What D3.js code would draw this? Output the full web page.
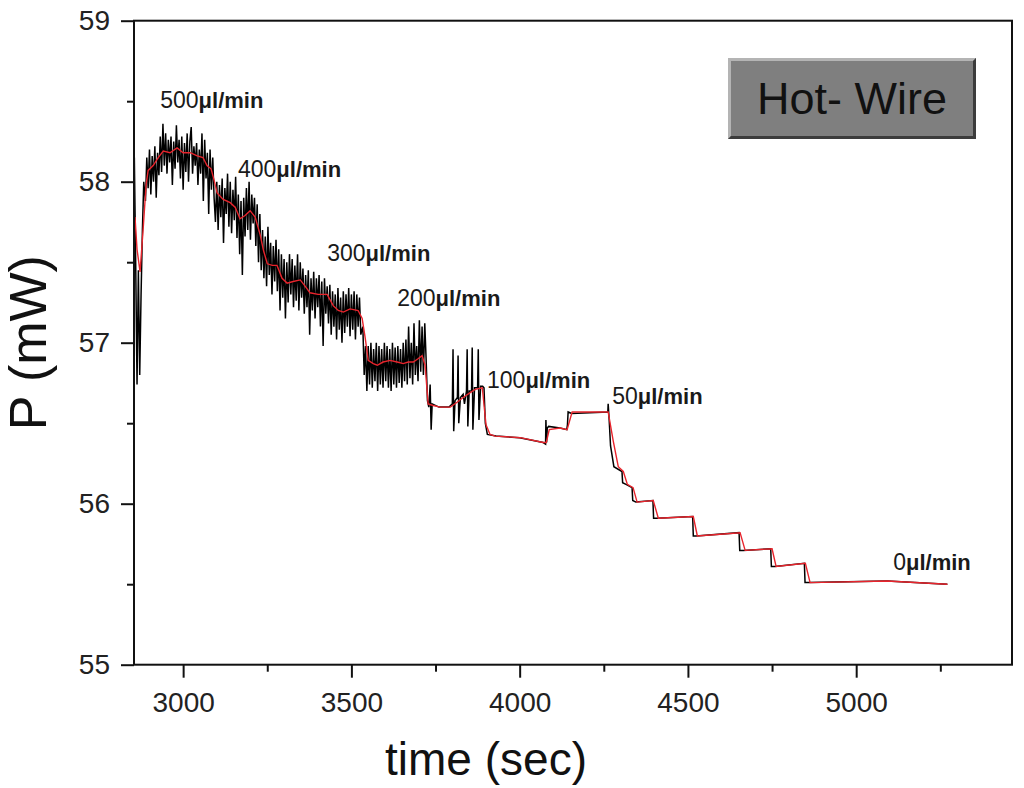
<!DOCTYPE html>
<html>
<head>
<meta charset="utf-8">
<script src="https://cdn.jsdelivr.net/npm/d3@7"></script>
<style>
  body { margin: 0; background: #fff; }
  text { font-family: Arial, "Liberation Sans", sans-serif; }
</style>
</head>
<body>
<div id="chart"></div>
<script>
// tick values
var timeTicks = [3000, 3500, 4000, 4500, 5000];
var timeMinor = [3250, 3750, 4250, 4750, 5250];
var powerTicks = [55, 56, 57, 58, 59];
var powerMinor = [55.5, 56.5, 57.5, 58.5];

// raw signal (black), [time sec, P mW]
var rawTrace = [
  [2855, 58.15], [2859, 57.50], [2863, 56.74], [2867, 57.45], [2871, 56.80], [2875, 57.30],
  [2879, 57.70], [2883, 58.00], [2888, 57.88], [2892, 58.15], [2896, 57.96], [2900, 58.20],
  [2904, 57.92], [2908, 58.16], [2912, 58.00], [2916, 58.22], [2920, 57.90], [2924, 58.18],
  [2928, 58.04], [2932, 58.28], [2936, 58.06], [2940, 58.36], [2944, 58.10], [2948, 58.30],
  [2952, 58.05], [2956, 58.26], [2960, 58.12], [2964, 58.28], [2968, 57.98], [2972, 58.25],
  [2976, 58.08], [2980, 58.35], [2984, 58.12], [2988, 58.26], [2992, 58.02], [2996, 58.28],
  [3000, 57.95], [3004, 58.24], [3008, 58.06], [3012, 58.30], [3016, 58.00], [3020, 58.25],
  [3024, 58.34], [3028, 58.05], [3032, 58.22], [3036, 58.10], [3040, 58.24], [3044, 57.98],
  [3048, 58.20], [3052, 58.05], [3056, 58.30], [3060, 57.88], [3064, 58.26], [3068, 58.02],
  [3072, 58.18], [3076, 57.80], [3080, 58.20], [3084, 57.95], [3088, 58.15], [3092, 57.90],
  [3096, 57.75], [3100, 58.00], [3104, 57.70], [3108, 57.98], [3112, 57.78], [3116, 58.02],
  [3120, 57.62], [3124, 57.96], [3128, 57.80], [3132, 58.05], [3136, 57.72], [3140, 58.00],
  [3144, 57.68], [3148, 57.95], [3152, 57.76], [3156, 58.03], [3160, 57.65], [3164, 57.92],
  [3168, 57.55], [3172, 57.88], [3176, 57.42], [3180, 57.90], [3184, 57.66], [3188, 57.96],
  [3192, 57.70], [3196, 58.00], [3200, 57.64], [3204, 57.92], [3208, 57.74], [3212, 57.90],
  [3216, 57.60], [3220, 57.86], [3224, 57.50], [3228, 57.80], [3232, 57.45], [3236, 57.70],
  [3240, 57.40], [3244, 57.66], [3248, 57.35], [3252, 57.72], [3256, 57.42], [3260, 57.62],
  [3264, 57.30], [3268, 57.60], [3272, 57.38], [3276, 57.64], [3280, 57.32], [3284, 57.58],
  [3288, 57.20], [3292, 57.55], [3296, 57.28], [3300, 57.52], [3304, 57.15], [3308, 57.50],
  [3312, 57.25], [3316, 57.55], [3320, 57.30], [3324, 57.52], [3328, 57.22], [3332, 57.48],
  [3336, 57.26], [3340, 57.55], [3344, 57.20], [3348, 57.50], [3352, 57.28], [3356, 57.46],
  [3360, 57.18], [3364, 57.42], [3368, 57.22], [3372, 57.45], [3376, 57.05], [3380, 57.40],
  [3384, 57.20], [3388, 57.44], [3392, 57.15], [3396, 57.40], [3400, 57.22], [3404, 57.42],
  [3408, 57.10], [3412, 57.38], [3416, 56.98], [3420, 57.40], [3424, 57.18], [3428, 57.35],
  [3432, 57.12], [3436, 57.36], [3440, 57.05], [3444, 57.32], [3448, 57.10], [3452, 57.30],
  [3456, 57.02], [3460, 57.34], [3464, 57.08], [3468, 57.28], [3472, 57.00], [3476, 57.32],
  [3480, 57.06], [3484, 57.30], [3488, 57.10], [3492, 57.34], [3496, 57.04], [3500, 57.30],
  [3504, 57.08], [3508, 57.32], [3512, 57.02], [3516, 57.30], [3520, 57.10], [3524, 57.28],
  [3528, 57.05], [3534, 57.10], [3538, 56.80], [3542, 56.98], [3546, 56.70], [3550, 56.98],
  [3554, 56.74], [3558, 57.00], [3562, 56.72], [3566, 56.96], [3570, 56.76], [3574, 57.00],
  [3578, 56.70], [3582, 56.98], [3586, 56.74], [3590, 56.96], [3594, 56.72], [3598, 57.00],
  [3602, 56.76], [3606, 56.98], [3610, 56.72], [3614, 56.96], [3618, 56.70], [3622, 57.00],
  [3626, 56.74], [3630, 56.97], [3634, 56.72], [3638, 56.98], [3642, 56.75], [3646, 56.96],
  [3650, 56.72], [3654, 57.00], [3658, 56.76], [3662, 57.02], [3666, 56.74], [3670, 57.10],
  [3674, 56.78], [3678, 57.00], [3682, 56.74], [3686, 57.12], [3690, 56.80], [3694, 56.98],
  [3698, 56.76], [3702, 57.14], [3706, 56.82], [3710, 57.10], [3714, 56.80], [3718, 57.12],
  [3722, 56.90], [3726, 56.64], [3730, 56.60], [3734, 56.74], [3737, 56.46], [3740, 56.62],
  [3760, 56.60], [3790, 56.60], [3800, 56.62], [3802, 56.96], [3804, 56.45], [3808, 56.64],
  [3815, 56.66], [3817, 56.92], [3819, 56.50], [3824, 56.66], [3832, 56.68], [3836, 56.62],
  [3842, 56.70], [3844, 56.96], [3846, 56.48], [3850, 56.70], [3857, 56.70], [3859, 56.97],
  [3861, 56.46], [3866, 56.72], [3875, 56.72], [3877, 56.96], [3879, 56.52], [3884, 56.73],
  [3890, 56.73], [3894, 56.72], [3898, 56.50], [3904, 56.43], [3930, 56.42], [4000, 56.41],
  [4070, 56.38], [4077, 56.37], [4078, 56.52], [4080, 56.38], [4082, 56.47], [4086, 56.48],
  [4120, 56.47], [4140, 56.46], [4142, 56.49], [4144, 56.57], [4154, 56.56], [4262, 56.57],
  [4263, 56.62], [4266, 56.52], [4270, 56.36], [4280, 56.23], [4304, 56.20], [4306, 56.13],
  [4316, 56.12], [4334, 56.10], [4336, 56.02], [4345, 56.01], [4396, 56.02], [4398, 55.91],
  [4408, 55.91], [4514, 55.92], [4516, 55.80], [4524, 55.80], [4652, 55.82], [4654, 55.71],
  [4664, 55.71], [4746, 55.72], [4748, 55.61], [4758, 55.61], [4846, 55.63], [4848, 55.51],
  [4858, 55.51], [5092, 55.52], [5271, 55.50]
];

// smoothed signal (red)
var smoothTrace = [
  [2857, 57.78], [2863, 57.58], [2872, 57.44], [2881, 57.70], [2890, 57.98], [2896, 58.07],
  [2911, 58.10], [2926, 58.15], [2941, 58.19], [2961, 58.18], [2982, 58.21], [3000, 58.18],
  [3021, 58.18], [3042, 58.16], [3059, 58.15], [3071, 58.10], [3083, 58.08], [3092, 58.01],
  [3101, 57.93], [3119, 57.89], [3140, 57.87], [3155, 57.84], [3169, 57.77], [3184, 57.79],
  [3199, 57.82], [3214, 57.78], [3229, 57.67], [3238, 57.58], [3250, 57.49], [3265, 57.48],
  [3279, 57.48], [3294, 57.40], [3309, 57.37], [3327, 57.38], [3348, 57.39], [3363, 57.35],
  [3377, 57.31], [3401, 57.30], [3428, 57.30], [3446, 57.23], [3461, 57.20], [3476, 57.19],
  [3496, 57.21], [3520, 57.20], [3532, 57.15], [3541, 57.03], [3550, 56.89], [3565, 56.87],
  [3577, 56.86], [3594, 56.88], [3615, 56.89], [3636, 56.88], [3654, 56.87], [3669, 56.88],
  [3684, 56.88], [3698, 56.90], [3710, 56.92], [3719, 56.86], [3728, 56.62], [3743, 56.61],
  [3764, 56.60], [3794, 56.60], [3814, 56.63], [3832, 56.66], [3853, 56.69], [3868, 56.71],
  [3889, 56.72], [3900, 56.49], [3912, 56.43], [3927, 56.42], [4002, 56.41], [4070, 56.38],
  [4079, 56.38], [4088, 56.46], [4120, 56.47], [4141, 56.46], [4156, 56.57], [4210, 56.57],
  [4263, 56.57], [4278, 56.39], [4293, 56.23], [4308, 56.20], [4320, 56.12], [4337, 56.10],
  [4349, 56.01], [4397, 56.02], [4412, 55.91], [4516, 55.92], [4528, 55.80], [4655, 55.82],
  [4670, 55.71], [4750, 55.72], [4762, 55.61], [4849, 55.63], [4863, 55.51], [5092, 55.52],
  [5271, 55.50]
];

// flow-rate annotations
var flowRates = ["500", "400", "300", "200", "100", "50", "0"];
var flowAnchors = [[2932, 58.46], [3163, 58.03], [3428, 57.51], [3636, 57.23],
                   [3903, 56.72], [4275, 56.62], [5110, 55.59]];

var svgWidth = 1024;
var svgHeight = 788;

var margin = { top: 20.7, right: 12, bottom: 123.3, left: 134 };
var width = svgWidth - margin.left - margin.right;
var height = svgHeight - margin.top - margin.bottom;

var svg = d3.select("#chart")
  .append("svg")
  .attr("width", svgWidth)
  .attr("height", svgHeight);

var chartGroup = svg.append("g")
  .attr("transform", `translate(${margin.left}, ${margin.top})`);

// Scales
var xScale = d3.scaleLinear().domain([2854, 5463]).range([0, width]);
var yScale = d3.scaleLinear().domain([55, 59]).range([height, 0]);

// Lines
var line = d3.line().x(d => xScale(d[0])).y(d => yScale(d[1]));

chartGroup.append("path")
  .datum(rawTrace)
  .attr("d", line)
  .attr("fill", "none")
  .attr("stroke", "#000")
  .attr("stroke-width", 1.5);

chartGroup.append("path")
  .datum(smoothTrace)
  .attr("d", line)
  .attr("fill", "none")
  .attr("stroke", "#e8242c")
  .attr("stroke-width", 1.4);

// Frame
chartGroup.append("rect")
  .attr("width", width)
  .attr("height", height)
  .attr("fill", "none")
  .attr("stroke", "#111")
  .attr("stroke-width", 2);

// Axes
var bottomAxis = d3.axisBottom(xScale).tickValues(timeTicks).tickSize(13).tickPadding(14).tickFormat(d3.format("d"));
var bottomMinor = d3.axisBottom(xScale).tickValues(timeMinor).tickSize(7).tickFormat("");
var leftAxis = d3.axisLeft(yScale).tickValues(powerTicks).tickSize(13).tickPadding(11).tickFormat(d3.format("d"));
var leftMinor = d3.axisLeft(yScale).tickValues(powerMinor).tickSize(7).tickFormat("");

[[bottomAxis, true], [bottomMinor, true], [leftAxis, false], [leftMinor, false]].forEach(function (a) {
  var g = chartGroup.append("g")
    .attr("transform", a[1] ? `translate(0, ${height})` : null)
    .call(a[0]);
  g.select(".domain").remove();
  g.selectAll("line").attr("stroke", "#111").attr("stroke-width", 2);
  g.selectAll("text").attr("fill", "#222").style("font-size", "28px");
});

// Flow labels
flowRates.forEach(function (r, i) {
  var t = chartGroup.append("text")
    .attr("x", xScale(flowAnchors[i][0]))
    .attr("y", yScale(flowAnchors[i][1]))
    .attr("fill", "#1a1a1a");
  t.append("tspan").style("font-size", "23px").text(r);
  t.append("tspan").style("font-size", "22px").style("font-weight", "bold").text("\u03bcl/min");
});

// Hot-Wire box
var box = svg.append("g").attr("transform", "translate(728, 58)");
box.append("rect").attr("width", 248).attr("height", 81).attr("fill", "#7f7f7f");
box.append("path").attr("d", "M0,81 L0,0 L248,0 L245,3 L3,3 L3,78 Z").attr("fill", "#b4b4b4");
box.append("path").attr("d", "M248,0 L248,81 L0,81 L3,78 L245,78 L245,3 Z").attr("fill", "#3c3c3c");
box.append("text")
  .attr("x", 124)
  .attr("y", 56)
  .attr("text-anchor", "middle")
  .style("font-size", "45px")
  .attr("fill", "#111")
  .text("Hot- Wire");

// Axis titles
svg.append("text")
  .attr("x", margin.left + xScale(3900))
  .attr("y", 775)
  .attr("text-anchor", "middle")
  .style("font-size", "46px")
  .attr("fill", "#111")
  .text("time (sec)");

svg.append("text")
  .attr("transform", `translate(46, ${margin.top + height / 2}) rotate(-90)`)
  .attr("text-anchor", "middle")
  .style("font-size", "52px")
  .attr("fill", "#111")
  .text("P (mW)");
</script>
</body>
</html>
